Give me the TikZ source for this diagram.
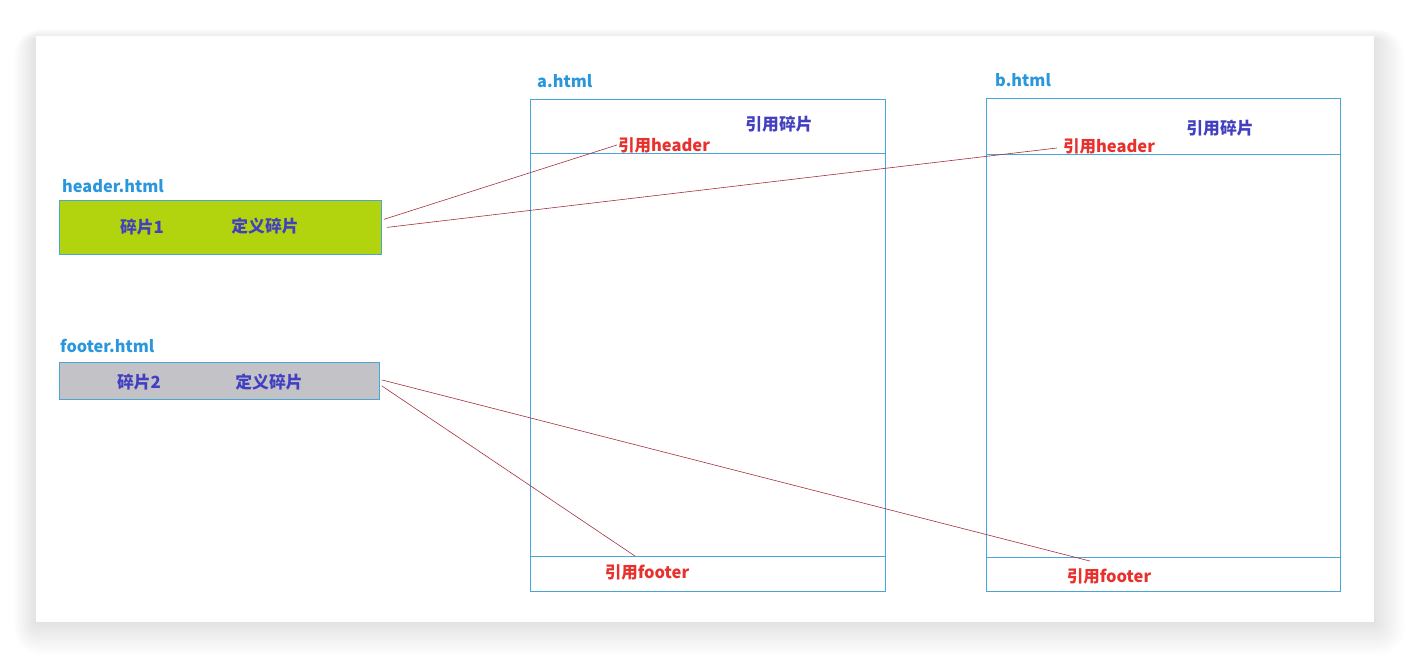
\documentclass[tikz,border=0pt]{standalone}
\usepackage{fontspec}
\setmainfont{Noto Sans CJK SC}
\definecolor{fileblue}{HTML}{2A97DD}
\definecolor{boxblue}{HTML}{4AA6D6}
\definecolor{fragpurple}{HTML}{4240C0}
\definecolor{refred}{HTML}{E8302C}
\definecolor{linkred}{HTML}{A8303E}
\definecolor{fraggreen}{HTML}{B2D40E}
\definecolor{fraggray}{HTML}{C3C2C7}

\begin{document}
\begin{tikzpicture}[x=1pt,y=-1pt, inner sep=0pt,
			fname/.style={text=fileblue, anchor=west, font=\bfseries\fontsize{16.3}{16}\selectfont},
			fragbox/.style={draw=boxblue, line width=0.8pt, anchor=north west},
			pagebox/.style={draw=boxblue, line width=0.8pt},
			deftext/.style={text=fragpurple, font=\bfseries\fontsize{16.8}{16}\selectfont},
			reftext/.style={text=refred, font=\bfseries\fontsize{16.5}{16}\selectfont},
			link/.style={draw=linkred, line width=0.6pt}]
			\useasboundingbox (0,0) rectangle (1410,658);
			\fill[white] (0,0) rectangle (1410,658);
			% card and its shadow
			\foreach \i in {1,...,28}
				\fill[black, opacity=0.005, rounded corners=\i] (36-\i*0.8,36-\i*0.4+4) rectangle (1374+\i*1.1,622+\i*1.2);
			\fill[white] (36,36) rectangle (1374,622);
			% fragment files
			\node[fname] (hfile) at (62,186) {header.html};
			\node[fragbox, fill=fraggreen, minimum width=322, minimum height=54] (hdr) at (59,200) {};
			\node[deftext] (hname) at (142,227) {碎片1};
			\node[deftext] (hdef) at (265,226) {定义碎片};
			\node[fname] (ffile) at (60,346) {footer.html};
			\node[fragbox, fill=fraggray, minimum width=320, minimum height=37] (ftr) at (59,362) {};
			\node[deftext] (fname2) at (139,382) {碎片2};
			\node[deftext] (fdef) at (269,382) {定义碎片};
			% pages
			\node[fname] (afile) at (537,81) {a.html};
			\draw[pagebox] (530,99) rectangle (885,591);
			\draw[pagebox] (530,153) -- (885,153);
			\draw[pagebox] (530,556) -- (885,556);
			\node[deftext] (aref) at (779,124) {引用碎片};
			\node[reftext] (arefh) at (664,145) {引用header};
			\node[reftext] (areff) at (647,572) {引用footer};
			\node[fname] (bfile) at (995,80) {b.html};
			\draw[pagebox] (986,98) rectangle (1340,591);
			\draw[pagebox] (986,154) -- (1340,154);
			\draw[pagebox] (986,557) -- (1340,557);
			\node[deftext] (bref) at (1220,128) {引用碎片};
			\node[reftext] (brefh) at (1109,146) {引用header};
			\node[reftext] (breff) at (1109,576) {引用footer};
			% links
			\draw[link] ([shift={(2,-8)}]hdr.east) -- ([xshift=-1]arefh.west);
			\draw[link] ([xshift=5]hdr.east) -- ([shift={(-6,2)}]brefh.west);
			\draw[link] ([shift={(2,-1)}]ftr.east) -- ([shift={(-19,-7)}]breff.north);
			\draw[link] ([shift={(2,5)}]ftr.east) -- ([shift={(-12,-8)}]areff.north);
		\end{tikzpicture}
\end{document}
